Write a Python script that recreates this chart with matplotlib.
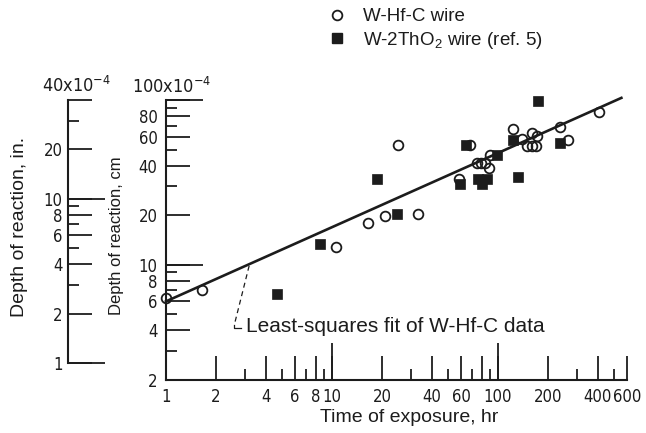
import matplotlib
matplotlib.use('Agg')
import matplotlib.pyplot as plt
from matplotlib.lines import Line2D
from matplotlib import font_manager as fm
from matplotlib.font_manager import FontProperties

plt.rcParams['font.family'] = ['Liberation Sans', 'DejaVu Sans']
plt.rcParams['mathtext.default'] = 'regular'

# ---------------- data (time in hr, depth in 1e-4 cm) ----------------
hfc_time = [1.0, 1.65, 10.6, 16.6, 20.8, 32.9, 24.9, 58.1, 67.7, 74.7, 78.9, 83.4,
            88.3, 89.5, 123, 140, 160, 150, 160, 170, 172, 237, 265, 408]
hfc_depth = [6.3, 7.05, 12.9, 18.0, 19.9, 20.4, 53.6, 33.3, 53.6, 41.7, 41.7, 41.7,
             38.9, 46.6, 67.1, 58.3, 63.4, 52.8, 52.8, 52.8, 60.8, 68.1, 57.5, 84.0]

tho2_time = [4.69, 8.52, 18.8, 24.5, 58.9, 64.1, 75.7, 85.8, 80.0, 98.6, 123, 132, 175, 237]
tho2_depth = [6.66, 13.4, 33.3, 20.4, 31.0, 53.6, 33.3, 33.3, 31.0, 46.6, 56.8, 34.3, 98.0, 55.2]

fit_time = [1, 555]
fit_depth = [6.0, 103]

x_major = [1, 2, 4, 6, 8, 10, 20, 40, 60, 80, 100, 200, 400, 600]
x_labels = ['1', '2', '4', '6', '8', '10', '20', '40', '60', '', '100', '200', '400', '600']
x_minor = [3, 5, 7, 9, 30, 50, 70, 90, 300, 500]
x_long = [10, 100]

cm_major = [2, 4, 6, 8, 10, 20, 40, 60, 80, 100]
cm_labels = ['2', '4', '6', '8', '10', '20', '40', '60', '80', '']
cm_minor = [3, 5, 7, 9, 30, 50, 70, 90]
cm_long = [10, 100]

in_major = [1, 2, 4, 6, 8, 10, 20, 40]
in_labels = ['1', '2', '4', '6', '8', '10', '20', '']
in_minor = [3, 5, 7, 9, 30]
in_long = [1, 10]
CM_PER_IN = 2.54

# ---------------- narrow font for numbers, if one is installed ----------------
narrow_path = None
for f in fm.fontManager.ttflist:
    nm = f.name
    st = str(f.stretch).lower()
    if ('Mono' in nm) or ('Serif' in nm) or ('CJK' in nm):
        continue
    if f.style != 'normal' or f.weight not in (400, 'normal', 'regular', 'book'):
        continue
    if ('Narrow' in nm) or ('Condensed' in nm) or ('condensed' in st):
        narrow_path = f.fname
        break
if narrow_path:
    NUM_SIZE = 12
    num_fp = lambda size=NUM_SIZE: FontProperties(fname=narrow_path, size=size)
else:
    NUM_SIZE = 11.5
    num_fp = lambda size=NUM_SIZE: FontProperties(family='Liberation Sans', size=size)

ink = '#1c1c1c'
W, H = 646, 433
fig = plt.figure(figsize=(W / 100, H / 100), dpi=100)
rect = [166 / W, 53 / H, 461 / W, 280 / H]
ax = fig.add_axes(rect)

MED, SHORT, LONG = 17.5, 8.0, 26.5
TW = 1.3

# ---- main axes ----
ax.set_xscale('log')
ax.set_yscale('log')
ax.set_xlim(1, 600)
ax.set_ylim(2, 100)
for s in ['top', 'right']:
    ax.spines[s].set_visible(False)
for s in ['left', 'bottom']:
    ax.spines[s].set_linewidth(1.5)
    ax.spines[s].set_color(ink)

ax.set_xticks(x_major)
ax.set_xticklabels(x_labels)
ax.set_xticks(x_minor, minor=True)
ax.set_xticklabels([''] * len(x_minor), minor=True)
ax.set_yticks(cm_major)
ax.set_yticklabels(cm_labels)
ax.set_yticks(cm_minor, minor=True)
ax.set_yticklabels([''] * len(cm_minor), minor=True)
ax.tick_params(which='major', direction='in', length=MED, width=TW, color=ink,
               labelcolor=ink)
ax.tick_params(which='minor', direction='in', length=SHORT, width=TW, color=ink)
ax.tick_params(axis='x', which='major', pad=6)
ax.tick_params(axis='y', which='major', pad=6)
for lbl in ax.get_xticklabels() + ax.get_yticklabels():
    lbl.set_fontproperties(num_fp())

sx = ax.secondary_xaxis('bottom')
sx.set_xticks(x_long)
sx.set_xticklabels([''] * len(x_long))
sx.xaxis.set_minor_locator(matplotlib.ticker.NullLocator())
sx.tick_params(direction='in', length=LONG, width=TW, color=ink)
for s in sx.spines.values():
    s.set_visible(False)

sy = ax.secondary_yaxis('left')
sy.set_yticks(cm_long)
sy.set_yticklabels([''] * len(cm_long))
sy.yaxis.set_minor_locator(matplotlib.ticker.NullLocator())
sy.tick_params(direction='in', length=LONG, width=TW, color=ink)
for s in sy.spines.values():
    s.set_visible(False)

# ---- data ----
ax.plot(fit_time, fit_depth, color=ink, lw=1.9, clip_on=False, zorder=2)
ax.plot(hfc_time, hfc_depth, ls='none', marker='o', ms=7, mfc='none', mec=ink,
        mew=1.3, clip_on=False, zorder=3)
ax.plot(tho2_time, tho2_depth, ls='none', marker='s', ms=7.6, mfc=ink, mec=ink,
        mew=0.5, clip_on=False, zorder=4)

# leader for least-squares fit
ax.plot([3.17, 2.58], [9.86, 4.32], color=ink, lw=0.9, ls=(0, (4, 3)))
ax.plot([2.58, 2.58, 2.82], [4.32, 4.15, 4.15], color=ink, lw=0.9)
ax.text(3.04, 4.25, 'Least-squares fit of W-Hf-C data', fontsize=15, color=ink,
        ha='left', va='center')

# ---- inches axis ----
ax2 = fig.add_axes(rect)
ax2.set_yscale('log')
ax2.set_ylim(2 / CM_PER_IN, 100 / CM_PER_IN)
ax2.patch.set_visible(False)
ax2.xaxis.set_visible(False)
for s in ['top', 'right', 'bottom']:
    ax2.spines[s].set_visible(False)
loc_in = -98 / 461
ax2.spines['left'].set_position(('axes', loc_in))
ax2.spines['left'].set_bounds(1, 40)
ax2.spines['left'].set_linewidth(1.5)
ax2.spines['left'].set_color(ink)
ax2.set_yticks(in_major)
ax2.set_yticklabels(in_labels)
ax2.set_yticks(in_minor, minor=True)
ax2.set_yticklabels([''] * len(in_minor), minor=True)
ax2.tick_params(which='major', direction='in', length=MED, width=TW, color=ink,
                labelcolor=ink, pad=4)
ax2.tick_params(which='minor', direction='in', length=SHORT, width=TW, color=ink)
for lbl in ax2.get_yticklabels():
    lbl.set_fontproperties(num_fp())
s2 = ax2.secondary_yaxis(loc_in)
s2.set_yticks(in_long)
s2.set_yticklabels([''] * len(in_long))
s2.yaxis.set_minor_locator(matplotlib.ticker.NullLocator())
s2.tick_params(direction='in', length=LONG, width=TW, color=ink)
for s in s2.spines.values():
    s.set_visible(False)

# ---- labels ----
fig.text(172 / W, 1 - 93 / H, '100x10$^{-4}$', fontproperties=num_fp(NUM_SIZE + 1),
         ha='center', va='baseline', color=ink)
fig.text(76 / W, 1 - 92 / H, '40x10$^{-4}$', fontproperties=num_fp(NUM_SIZE + 1),
         ha='center', va='baseline', color=ink)
fig.text(117 / W, 1 - 236 / H, 'Depth of reaction, cm', fontsize=12, rotation=90,
         ha='center', va='center', color=ink)
fig.text(20 / W, 1 - 227 / H, 'Depth of reaction, in.', fontsize=14, rotation=90,
         ha='center', va='center', color=ink)
fig.text(409 / W, 1 - 417 / H, 'Time of exposure, hr', fontsize=14, ha='center',
         va='center', color=ink)

handles = [Line2D([], [], ls='none', marker='o', ms=7, mfc='none', mec=ink, mew=1.3),
           Line2D([], [], ls='none', marker='s', ms=7.6, mfc=ink, mec=ink)]
fig.legend(handles, ['W-Hf-C wire', 'W-2ThO$_2$ wire (ref. 5)'], loc='upper left',
           bbox_to_anchor=(328 / W, 1 - 8 / H), frameon=False, fontsize=13.5,
           handlelength=1.0, handletextpad=0.85, labelspacing=0.25, borderpad=0,
           borderaxespad=0, labelcolor=ink)

fig.savefig('out.png', dpi=100, facecolor='white')
